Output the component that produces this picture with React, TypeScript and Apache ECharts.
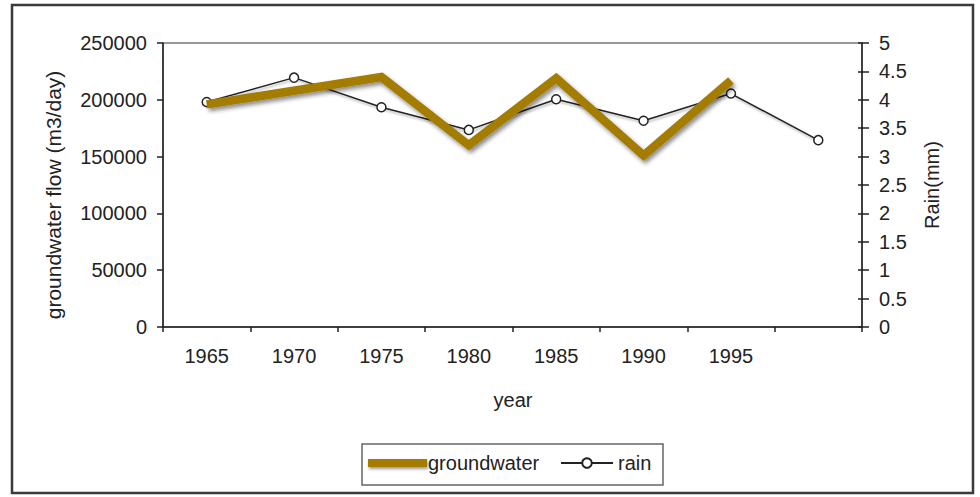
import React, { useEffect, useRef } from "react";
import * as echarts from "echarts";

const years = ["1965", "1970", "1975", "1980", "1985", "1990", "1995", "2000"];
const shownYears = ["1965", "1970", "1975", "1980", "1985", "1990", "1995"];
const groundwater: (number | null)[] = [196000, null, 220000, 160000, 219000, 151000, 217000, null];
const rain = [3.96, 4.39, 3.87, 3.47, 4.01, 3.63, 4.11, 3.29];

const FONT = "'Liberation Sans', Arial, sans-serif";
const GOLD = "#a37b00";
const INK = "#222222";

export default function App() {
  const ref = useRef<HTMLDivElement>(null);
  useEffect(() => {
    if (!ref.current) return;
    const chart = echarts.init(ref.current, null, { renderer: "svg" });
    const labelStyle = { color: INK, fontSize: 20, fontFamily: FONT };
    chart.setOption({
      animation: false,
      backgroundColor: "#ffffff",
      textStyle: { fontFamily: FONT },
      grid: {
        left: 163,
        right: 118,
        top: 43,
        bottom: 170,
        show: true,
        borderColor: "#333",
        borderWidth: 1,
        backgroundColor: "transparent",
      },
      legend: [
        {
          data: [
            {
              name: "groundwater",
              icon: "rect",
              itemStyle: {
                color: GOLD,
                shadowColor: "rgba(0,0,0,0.4)",
                shadowBlur: 3,
                shadowOffsetX: 1,
                shadowOffsetY: 2,
              },
            },
          ],
          left: 368,
          top: 453,
          itemWidth: 59,
          itemHeight: 8,
          padding: 0,
          textStyle: { ...labelStyle, padding: [0, 0, 0, -4] },
        },
        {
          data: [{ name: "rain" }],
          left: 560,
          top: 453,
          itemWidth: 52,
          itemHeight: 12,
          padding: 0,
          textStyle: { ...labelStyle },
        },
      ],
      xAxis: {
        type: "category",
        data: years,
        boundaryGap: true,
        axisLine: { lineStyle: { color: INK, width: 1.5 } },
        axisTick: { show: true, length: 5, lineStyle: { color: INK, width: 1.5 } },
        axisLabel: {
          ...labelStyle,
          margin: 19,
          interval: 0,
          formatter: (v: string) => (shownYears.includes(v) ? v : ""),
        },
        splitLine: { show: false },
      },
      yAxis: [
        {
          type: "value",
          position: "left",
          min: 0,
          max: 250000,
          interval: 50000,
          axisLine: { show: true, lineStyle: { color: INK, width: 1.5 } },
          axisTick: { show: true, length: 6, lineStyle: { color: INK, width: 1.5 } },
          axisLabel: { ...labelStyle, margin: 16, formatter: (v: number) => String(v) },
          splitLine: { show: false },
        },
        {
          type: "value",
          position: "right",
          min: 0,
          max: 5,
          interval: 0.5,
          axisLine: { show: true, lineStyle: { color: INK, width: 1.5 } },
          axisTick: { show: true, length: 7, lineStyle: { color: INK, width: 1.5 } },
          axisLabel: { ...labelStyle, margin: 17, formatter: (v: number) => String(v) },
          splitLine: { show: false },
        },
        {
          type: "value",
          position: "right",
          min: 0,
          max: 5,
          interval: 0.5,
          axisLine: { show: false },
          axisTick: { show: true, inside: true, length: 4, lineStyle: { color: INK, width: 1.5 } },
          axisLabel: { show: false },
          splitLine: { show: false },
        },
      ],
      series: [
        {
          name: "rain",
          type: "line",
          yAxisIndex: 1,
          data: rain,
          symbol: "circle",
          symbolSize: 9,
          itemStyle: { color: "#ffffff", borderColor: INK, borderWidth: 1.5 },
          lineStyle: {
            color: INK,
            width: 1.5,
            shadowColor: "rgba(0,0,0,0.3)",
            shadowBlur: 2,
            shadowOffsetX: 1,
            shadowOffsetY: 2,
          },
          z: 2,
        },
        {
          name: "groundwater",
          type: "line",
          yAxisIndex: 0,
          data: groundwater,
          connectNulls: true,
          symbol: "none",
          itemStyle: { color: GOLD },
          lineStyle: {
            color: GOLD,
            width: 8.5,
            join: "miter",
            shadowColor: "rgba(0,0,0,0.45)",
            shadowBlur: 4,
            shadowOffsetX: 2,
            shadowOffsetY: 3,
          },
          z: 3,
        },
      ],
      graphic: [
        {
          type: "rect",
          shape: { x: 12, y: 5, width: 961, height: 488 },
          style: { fill: "none", stroke: "#3a3a3a", lineWidth: 2.5 },
          silent: true,
        },
        {
          type: "rect",
          shape: { x: 362, y: 444, width: 301, height: 41 },
          style: { fill: "none", stroke: "#666", lineWidth: 1.5 },
          silent: true,
        },
        {
          type: "text",
          x: 53,
          y: 195,
          rotation: Math.PI / 2,
          style: {
            text: "groundwater flow (m3/day)",
            fill: INK,
            font: `21px ${FONT}`,
            textAlign: "center",
            textVerticalAlign: "middle",
          },
        },
        {
          type: "text",
          x: 932,
          y: 185,
          rotation: Math.PI / 2,
          style: {
            text: "Rain(mm)",
            fill: INK,
            font: `20px ${FONT}`,
            textAlign: "center",
            textVerticalAlign: "middle",
          },
        },
        {
          type: "text",
          x: 513,
          y: 400,
          style: {
            text: "year",
            fill: INK,
            font: `20px ${FONT}`,
            textAlign: "center",
            textVerticalAlign: "middle",
          },
        },
      ],
    });
    return () => chart.dispose();
  }, []);
  return (
    <div
      ref={ref}
      style={{ position: "fixed", left: 0, top: 0, width: 980, height: 497 }}
    />
  );
}
